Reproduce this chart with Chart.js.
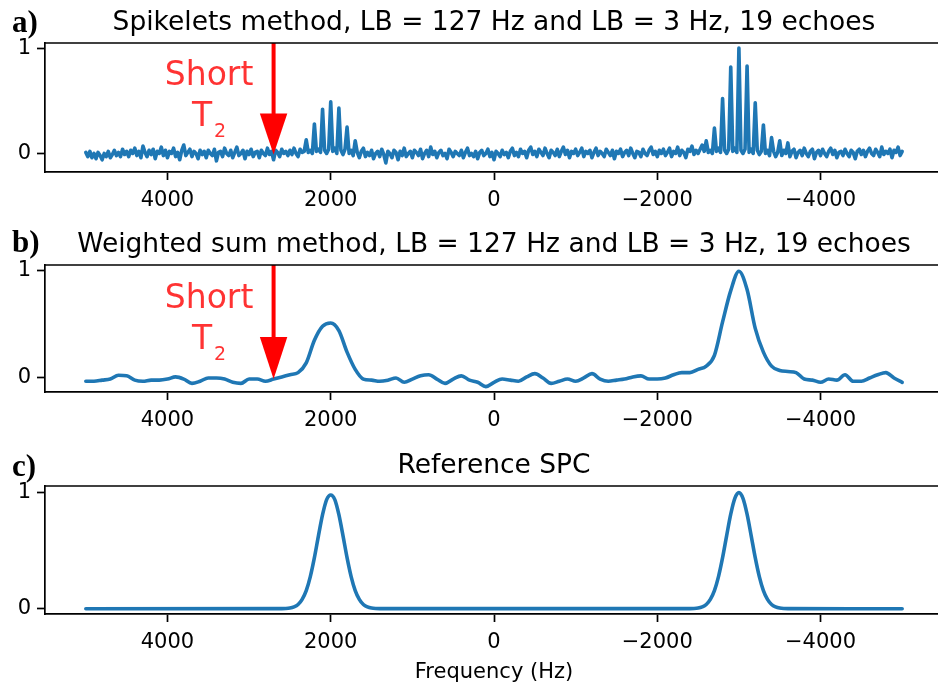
<!DOCTYPE html>
<html>
<head>
<meta charset="utf-8">
<script src="https://cdn.jsdelivr.net/npm/chart.js@4.4.0/dist/chart.umd.min.js"></script>
<style>
  html, body { margin: 0; padding: 0; background: #fff; overflow: hidden; }
  body { width: 938px; height: 682px; position: relative; }
  canvas { position: absolute; left: 0; display: block; }
</style>
</head>
<body>
<canvas id="spikelets" width="960" height="225" style="top:0"></canvas>
<canvas id="weighted" width="960" height="225" style="top:225px"></canvas>
<canvas id="reference" width="960" height="232" style="top:450px"></canvas>
<script>
// Frequency grids (Hz), from +5000 down to -5000
const gridStart = 5000;
const spikeletStep = 25;
const weightedStep = 100;

// a) spikelets spectrum, one value every 25 Hz (500 Hz per row)
const spikeletAmp = [
  0.01, -0.03, 0.02, -0.04, 0.0, -0.05, 0.01, -0.02, -0.06, 0.0, -0.03, 0.02, -0.04, -0.01, 0.03, -0.02, 0.01, -0.03, 0.04, -0.01,
  0.02, -0.03, 0.03, 0.0, 0.05, -0.02, 0.02, -0.04, 0.07, 0.01, -0.03, 0.03, -0.01, 0.04, -0.05, 0.02, 0.0, 0.06, -0.02, 0.03,
  -0.04, 0.02, 0.0, 0.05, -0.03, 0.01, -0.06, 0.03, 0.08, -0.02, 0.01, 0.04, -0.03, 0.02, 0.0, -0.05, 0.03, -0.01, 0.02, -0.04,
  0.03, 0.0, -0.02, 0.04, -0.07, 0.01, 0.02, -0.03, 0.05, 0.0, -0.02, 0.03, -0.04, 0.01, 0.06, -0.02, 0.0, 0.03, -0.05, 0.02,
  -0.01, 0.04, -0.03, 0.01, 0.02, -0.04, 0.03, 0.0, -0.02, 0.05, -0.01, 0.02, -0.06, 0.03, 0.01, -0.03, 0.04, 0.0, 0.02, -0.02,
  0.03, -0.01, 0.05, 0.0, -0.03, 0.04, 0.01, 0.02, 0.13, 0.01, 0.03, 0.0, 0.28, 0.02, 0.04, 0.01, 0.42, 0.03, 0.0, 0.04,
  0.49, 0.02, 0.05, 0.0, 0.43, 0.03, -0.01, 0.04, 0.25, 0.0, 0.03, -0.02, 0.12, 0.01, -0.04, 0.02, 0.05, -0.03, 0.01, -0.02,
  0.03, -0.05, 0.0, 0.02, -0.03, 0.04, -0.01, -0.09, 0.02, 0.0, -0.04, 0.03, 0.01, -0.06, 0.02, -0.02, 0.05, -0.03, 0.0, 0.02,
  -0.04, 0.03, 0.01, -0.02, 0.04, -0.05, 0.0, 0.03, -0.03, 0.06, -0.01, 0.02, -0.04, 0.01, 0.03, -0.02, 0.0, -0.05, 0.04, 0.01,
  -0.03, 0.02, 0.0, -0.02, 0.03, -0.04, 0.01, 0.05, -0.02, 0.0, -0.03, 0.02, -0.05, 0.01, 0.03, -0.02, 0.0, 0.04, -0.03, 0.01,
  -0.06, 0.02, 0.0, -0.03, 0.03, -0.01, 0.01, -0.04, 0.02, 0.05, -0.02, 0.01, -0.03, 0.04, 0.0, 0.02, -0.04, 0.03, 0.06, -0.01,
  0.02, -0.03, 0.04, 0.01, -0.02, 0.05, 0.0, -0.04, 0.03, 0.01, -0.02, 0.04, -0.03, 0.02, 0.06, -0.01, 0.03, -0.04, 0.02, 0.0,
  0.04, -0.02, 0.01, 0.05, -0.03, 0.02, 0.0, 0.03, -0.04, 0.01, 0.05, -0.02, 0.02, 0.0, -0.03, 0.04, 0.01, -0.02, 0.03, -0.05,
  0.02, 0.0, 0.04, -0.03, 0.01, 0.03, -0.02, 0.05, 0.0, -0.04, 0.02, 0.01, -0.03, 0.04, 0.0, -0.02, 0.03, 0.06, -0.01, 0.02,
  -0.03, 0.03, 0.0, 0.04, -0.02, 0.01, 0.05, -0.03, 0.02, 0.0, 0.06, -0.02, 0.03, 0.01, -0.04, 0.04, 0.02, 0.07, -0.01, 0.03,
  0.0, 0.04, 0.08, 0.02, 0.12, 0.01, 0.03, 0.0, 0.24, 0.02, 0.05, 0.01, 0.52, 0.03, 0.0, 0.04, 0.82, 0.02, 0.05, 0.01,
  1.0, 0.03, 0.0, 0.04, 0.83, 0.01, 0.04, 0.0, 0.48, 0.03, -0.01, 0.02, 0.27, 0.0, 0.03, -0.02, 0.15, 0.02, -0.03, 0.01,
  0.12, -0.02, 0.03, 0.0, 0.1, -0.03, 0.02, 0.04, -0.04, 0.01, 0.03, -0.02, 0.05, 0.0, -0.03, 0.02, 0.04, -0.05, 0.01, 0.03,
  -0.02, 0.04, 0.0, -0.03, 0.02, 0.05, -0.01, 0.03, -0.04, 0.01, 0.02, -0.02, 0.04, 0.0, -0.03, 0.03, 0.01, -0.05, 0.02, 0.04,
  -0.01, 0.03, -0.03, 0.02, 0.05, 0.0, -0.02, 0.04, 0.01, -0.03, 0.06, -0.01, 0.02, 0.0, 0.04, -0.04, 0.03, 0.01, 0.06, -0.02,
  0.02
];

// b) weighted sum spectrum, one value every 100 Hz (1000 Hz per row)
const weightedAmp = [
  -0.03, -0.03, -0.02, -0.01, 0.025, 0.02, -0.02, -0.03, -0.02, -0.02,
  -0.01, 0.01, -0.01, -0.05, -0.03, 0.0, 0.0, -0.01, -0.04, -0.05,
  -0.01, -0.01, -0.03, -0.01, 0.01, 0.03, 0.05, 0.14, 0.35, 0.48,
  0.51, 0.44, 0.24, 0.08, -0.01, -0.02, -0.03, -0.02, 0.0, -0.04,
  -0.01, 0.02, 0.03, -0.01, -0.05, -0.01, 0.02, -0.02, -0.04, -0.08,
  -0.04, -0.01, -0.02, -0.03, 0.01, 0.04, 0.0, -0.05, -0.03, -0.01,
  -0.03, 0.0, 0.04, -0.01, -0.03, -0.02, -0.01, 0.01, 0.02, -0.01,
  -0.01, 0.0, 0.03, 0.05, 0.05, 0.08, 0.11, 0.21, 0.52, 0.81,
  0.99, 0.82, 0.46, 0.24, 0.11, 0.07, 0.06, 0.05, -0.01, -0.02,
  -0.04, -0.01, -0.02, 0.03, -0.03, -0.03, 0.0, 0.03, 0.05, 0.0,
  -0.04
];

// c) reference spectrum
const refFreq = [
  5000,
  2600, 2550, 2500, 2450, 2400, 2350, 2300, 2250, 2200, 2150, 2100, 2050, 2000,
  1950, 1900, 1850, 1800, 1750, 1700, 1650, 1600, 1550, 1500, 1450, 1400,
  -2400, -2450, -2500, -2550, -2600, -2650, -2700, -2750, -2800, -2850, -2900, -2950, -3000,
  -3050, -3100, -3150, -3200, -3250, -3300, -3350, -3400, -3450, -3500, -3550, -3600,
  -5000
];
const refAmp = [
  0,
  0.001, 0.002, 0.006, 0.016, 0.037, 0.081, 0.157, 0.277, 0.44, 0.63, 0.81, 0.94, 0.98,
  0.94, 0.81, 0.63, 0.44, 0.277, 0.157, 0.081, 0.037, 0.016, 0.006, 0.002, 0.001,
  0.001, 0.002, 0.006, 0.016, 0.037, 0.081, 0.157, 0.277, 0.44, 0.63, 0.814, 0.95, 1.0,
  0.95, 0.814, 0.63, 0.44, 0.277, 0.157, 0.081, 0.037, 0.016, 0.006, 0.002, 0.001,
  0
];

const xTicks = [4000, 2000, 0, -2000, -4000];
const yTicks = [0, 1];

// "Short T2" arrow marker (data coordinates)
const arrowFreq = 2700;
const arrowTip = -0.01;
const arrowHeadBase = 0.38;
const arrowHeadHalfWidth = 168;
const markerFreq = 3490;

const blue = '#1f77b4';
const tickFont = { family: 'DejaVu Sans', size: 21 };

const onGrid = (amps, step) => amps.map((v, i) => ({ x: gridStart - i * step, y: v }));
const minusFmt = v => (v < 0 ? '\u2212' + Math.abs(v) : String(v));

// frame top line, panel title and panel letter
const framePlugin = {
  id: 'frame',
  afterDraw(chart, args, opts) {
    const { ctx, chartArea: a } = chart;
    ctx.save();
    ctx.strokeStyle = '#000';
    ctx.lineWidth = 1.7;
    ctx.beginPath();
    ctx.moveTo(a.left, a.top);
    ctx.lineTo(a.right, a.top);
    ctx.stroke();
    ctx.fillStyle = '#000';
    ctx.textBaseline = 'alphabetic';
    ctx.textAlign = 'center';
    ctx.font = '26.5px "DejaVu Sans"';
    ctx.fillText(opts.title, (a.left + a.right) / 2, opts.titleY);
    ctx.textAlign = 'left';
    ctx.font = 'bold 31px "Liberation Serif"';
    ctx.fillText(opts.letter, 12, opts.letterY);
    ctx.restore();
  }
};

// red arrow with "Short T2"
const markerPlugin = {
  id: 'marker',
  afterDatasetsDraw(chart, args, opts) {
    if (!opts.show) return;
    const { ctx, chartArea: a, scales: { x, y } } = chart;
    const px = x.getPixelForValue(arrowFreq);
    const tip = y.getPixelForValue(arrowTip);
    const base = y.getPixelForValue(arrowHeadBase);
    const hw = Math.abs(x.getPixelForValue(arrowFreq + arrowHeadHalfWidth) - px);
    ctx.save();
    ctx.strokeStyle = '#ff0000';
    ctx.fillStyle = '#ff0000';
    ctx.lineWidth = 4;
    ctx.beginPath();
    ctx.moveTo(px, a.top);
    ctx.lineTo(px, base + 1);
    ctx.stroke();
    ctx.beginPath();
    ctx.moveTo(px - hw, base);
    ctx.lineTo(px + hw, base);
    ctx.lineTo(px, tip);
    ctx.closePath();
    ctx.fill();

    const tx = x.getPixelForValue(markerFreq);
    const shortY = y.getPixelForValue(0.65);
    ctx.fillStyle = 'rgba(255,0,0,0.8)';
    ctx.textBaseline = 'alphabetic';
    ctx.textAlign = 'center';
    ctx.font = '33px "DejaVu Sans"';
    ctx.fillText('Short', tx, shortY);
    const wT = ctx.measureText('T').width;
    ctx.font = '19px "DejaVu Sans"';
    const w2 = ctx.measureText('2').width;
    const left = tx - (wT + w2 + 2) / 2;
    ctx.textAlign = 'left';
    ctx.font = '33px "DejaVu Sans"';
    ctx.fillText('T', left, shortY + 41);
    ctx.font = '19px "DejaVu Sans"';
    ctx.fillText('2', left + wT + 2, shortY + 52);
    ctx.restore();
  }
};

function makePanel(id, cfg) {
  return new Chart(document.getElementById(id), {
    type: 'line',
    data: {
      datasets: [{
        data: cfg.points,
        borderColor: blue,
        borderWidth: 3.6,
        pointRadius: 0,
        borderJoinStyle: 'round',
        borderCapStyle: 'round',
        cubicInterpolationMode: cfg.smooth ? 'monotone' : 'default',
        tension: 0
      }]
    },
    options: {
      responsive: false,
      animation: false,
      devicePixelRatio: 1,
      layout: { padding: { top: cfg.top, right: 17, left: 0, bottom: 0 } },
      plugins: {
        legend: { display: false },
        tooltip: { enabled: false },
        frame: { title: cfg.title, titleY: cfg.titleY, letter: cfg.letter, letterY: cfg.letterY },
        marker: { show: cfg.marker }
      },
      scales: {
        x: {
          type: 'linear',
          reverse: true,
          min: -5500,
          max: 5500,
          afterFit: s => { s.height = cfg.xAxisHeight; },
          afterBuildTicks: s => { s.ticks = xTicks.map(v => ({ value: v })); },
          ticks: { font: tickFont, color: '#000', padding: 8, maxRotation: 0, callback: minusFmt },
          grid: { drawOnChartArea: false, drawTicks: true, tickLength: 8, tickWidth: 1.7, color: '#000', tickColor: '#000' },
          border: { display: true, color: '#000', width: 1.7 },
          title: {
            display: !!cfg.xTitle,
            text: cfg.xTitle || '',
            font: { family: 'DejaVu Sans', size: 21, lineHeight: 0.9 },
            color: '#000',
            padding: { top: 0, bottom: 0 }
          }
        },
        y: {
          min: cfg.yMin,
          max: cfg.yMax,
          afterFit: s => { s.width = 45; },
          afterBuildTicks: s => { s.ticks = yTicks.map(v => ({ value: v })); },
          ticks: { font: tickFont, color: '#000', padding: 6 },
          grid: { drawOnChartArea: false, drawTicks: true, tickLength: 8, tickWidth: 1.7, color: '#000', tickColor: '#000' },
          border: { display: true, color: '#000', width: 1.7 }
        }
      }
    },
    plugins: [framePlugin, markerPlugin]
  });
}

makePanel('spikelets', {
  points: onGrid(spikeletAmp, spikeletStep),
  smooth: false,
  top: 43, xAxisHeight: 53,
  yMin: -0.176, yMax: 1.048,
  title: 'Spikelets method, LB = 127 Hz and LB = 3 Hz, 19 echoes',
  titleY: 30, letter: 'a)', letterY: 32,
  marker: true
});

makePanel('weighted', {
  points: onGrid(weightedAmp, weightedStep),
  smooth: true,
  top: 40, xAxisHeight: 58,
  yMin: -0.13, yMax: 1.048,
  title: 'Weighted sum method, LB = 127 Hz and LB = 3 Hz, 19 echoes',
  titleY: 27, letter: 'b)', letterY: 27,
  marker: true
});

makePanel('reference', {
  points: refFreq.map((f, i) => ({ x: f, y: refAmp[i] })),
  smooth: true,
  top: 36, xAxisHeight: 68,
  yMin: -0.045, yMax: 1.057,
  title: 'Reference SPC',
  titleY: 23, letter: 'c)', letterY: 26,
  marker: false,
  xTitle: 'Frequency (Hz)'
});
</script>
</body>
</html>
